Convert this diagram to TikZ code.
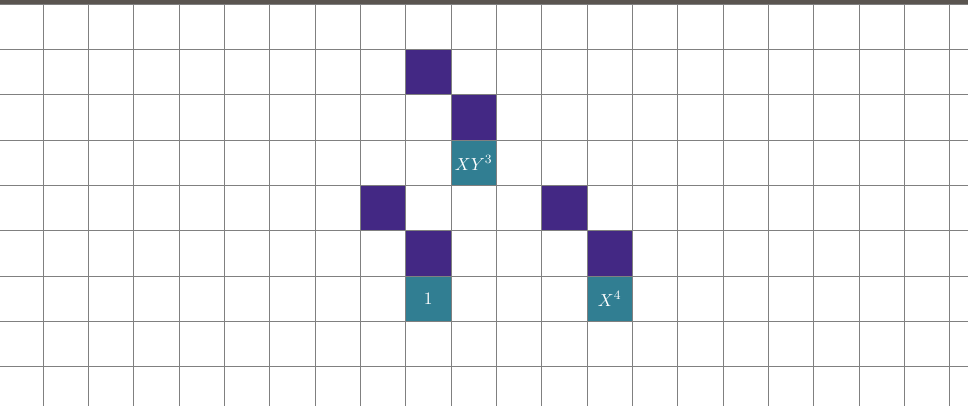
\documentclass[tikz,border=0pt]{standalone}
\definecolor{cellpurple}{RGB}{67,40,132}
\definecolor{cellteal}{RGB}{49,126,146}
\definecolor{topbar}{RGB}{90,85,80}
\begin{document}
\begin{tikzpicture}[x=1cm,y=1cm,
  gridline/.style={draw=black!50, line width=0.5pt},
  purplecell/.style={fill=cellpurple, minimum size=1cm, inner sep=0pt, outer sep=0pt, draw=none},
  tealcell/.style={fill=cellteal, minimum size=1cm, inner sep=0pt, outer sep=0pt, draw=none, text=white, font=\fontsize{10.8}{13}\selectfont}]
\useasboundingbox (0,0) rectangle (21.355,8.956);
\begin{scope}[shift={(-0.0507,8.863)}]
  % cells
  \node[purplecell] (p1) at (9.5,-1.5) {};
  \node[purplecell] (p2) at (10.5,-2.5) {};
  \node[tealcell] (t1) at (10.5,-3.5) {$XY^3$};
  \node[purplecell] (p3) at (8.5,-4.5) {};
  \node[purplecell] (p4) at (9.5,-5.5) {};
  \node[tealcell] (t2) at (9.5,-6.5) {$1$};
  \node[purplecell] (p5) at (12.5,-4.5) {};
  \node[purplecell] (p6) at (13.5,-5.5) {};
  \node[tealcell] (t3) at (13.5,-6.5) {$X^4$};
  % grid
  \foreach \k in {1,...,21} \draw[gridline] (\k,-8.863) -- (\k,0.2);
  \foreach \j in {0,...,8} \draw[gridline] (0.0507,-\j) -- (21.41,-\j);
\end{scope}
\fill[topbar] (0,8.868) rectangle (21.355,8.956);
\end{tikzpicture}
\end{document}
